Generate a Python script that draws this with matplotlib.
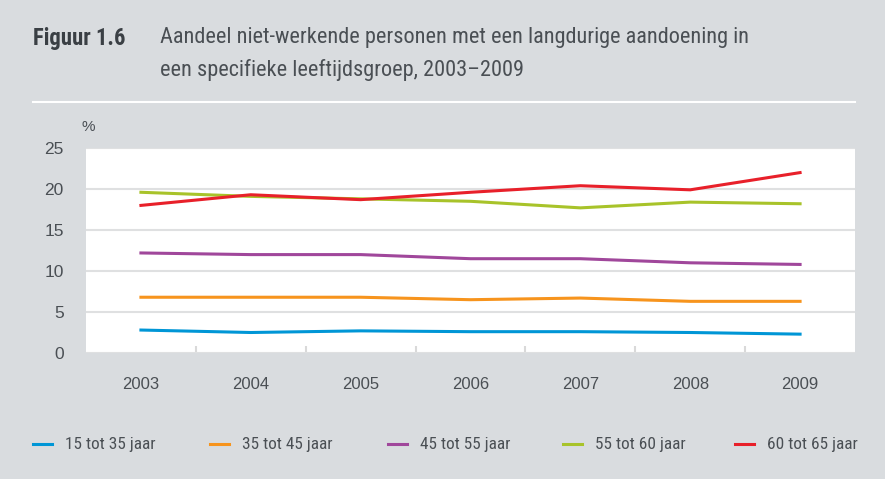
import matplotlib.pyplot as plt
from matplotlib import font_manager
from matplotlib.lines import Line2D

years = ["2003", "2004", "2005", "2006", "2007", "2008", "2009"]
labels = ["15 tot 35 jaar", "35 tot 45 jaar", "45 tot 55 jaar", "55 tot 60 jaar", "60 tot 65 jaar"]
age_15_35 = [2.8, 2.5, 2.7, 2.6, 2.6, 2.5, 2.3]
age_35_45 = [6.8, 6.8, 6.8, 6.5, 6.7, 6.3, 6.3]
age_45_55 = [12.2, 12.0, 12.0, 11.5, 11.5, 11.0, 10.8]
age_55_60 = [19.6, 19.1, 18.8, 18.5, 17.7, 18.4, 18.2]
age_60_65 = [18.0, 19.3, 18.7, 19.6, 20.4, 19.9, 22.0]
series = [age_15_35, age_35_45, age_45_55, age_55_60, age_60_65]
colors = ["#0096d6", "#f7941d", "#a0479b", "#a8c32a", "#e8202a"]
yticks = [0, 5, 10, 15, 20, 25]

bg = "#d9dcdf"
txt = "#4a4f54"


def pick_font(names):
    for n in names:
        try:
            font_manager.findfont(n, fallback_to_default=False)
            return n
        except Exception:
            pass
    return "DejaVu Sans"


narrow = pick_font(["Liberation Sans Narrow", "DejaVu Sans Condensed", "Roboto Condensed",
                    "Open Sans Condensed", "Roboto", "Liberation Sans"])
sans = pick_font(["Liberation Sans", "Arial"])

fig = plt.figure(figsize=(8.85, 4.79), dpi=100, facecolor=bg)
ax = fig.add_axes([86 / 885, 126 / 479, 769 / 885, 205 / 479])
ax.set_facecolor("white")

x = list(range(len(years)))
for vals, c, lab in zip(series, colors, labels):
    ax.plot(x, vals, color=c, lw=2.2, label=lab, zorder=3)

ax.set_xlim(-0.5, len(years) - 0.5)
ax.set_ylim(0, 25)
ax.set_yticks(yticks)
ax.set_yticklabels([str(t) for t in yticks], fontsize=12.5, color=txt, family=sans)
ax.set_xticks(x)
ax.set_xticklabels(years, fontsize=12, color=txt, family=sans)
ax.set_xticks([i + 0.5 for i in x[:-1]], minor=True)
ax.tick_params(axis="x", which="major", length=0, pad=17)
ax.tick_params(axis="x", which="minor", length=5, width=1.5, color="#d9d9d9", direction="in")
ax.tick_params(axis="y", length=0, pad=16)
ax.grid(axis="y", color="#dfe0e1", lw=1.5, zorder=0)
for s in ax.spines.values():
    s.set_visible(False)

renderer = fig.canvas.get_renderer()


def fit(t, width_px):
    # scale the font so the text spans the same width as in the reference
    w = t.get_window_extent(renderer).width
    t.set_fontsize(t.get_fontsize() * width_px / w)


H = 479
t0 = fig.text(33 / 885, 1 - 38 / H, "Figuur 1.6", fontsize=13, fontweight="bold", color="#3a3f44",
              family=narrow, va="center")
fit(t0, 92)
t1 = fig.text(160 / 885, 1 - 38 / H, "Aandeel niet-werkende personen met een langdurige aandoening in",
              fontsize=13, color=txt, family=narrow, va="center")
fit(t1, 586)
t2 = fig.text(160 / 885, 1 - 70 / H, "een specifieke leeftijdsgroep, 2003\u20132009",
              fontsize=t1.get_fontsize(), color=txt, family=narrow, va="center")
fig.add_artist(Line2D([33 / 885, 855 / 885], [1 - 102 / H, 1 - 102 / H], color="white", lw=1.5))
fig.text(81 / 885, 1 - 127 / H, "%", fontsize=11, color=txt, family=sans, va="center")

# legend drawn item by item at the reference positions
leg_x = [33, 210, 388, 563, 735]
size = None
for lx, c, lab in zip(leg_x, colors, labels):
    fig.add_artist(Line2D([lx / 885, (lx + 19) / 885], [1 - 444 / H, 1 - 444 / H], color=c, lw=2.2))
    t = fig.text((lx + 32) / 885, 1 - 444 / H, lab, fontsize=12, color=txt, family=narrow, va="center")
    if size is None:
        fit(t, 90)
        size = t.get_fontsize()
    else:
        t.set_fontsize(size)

fig.savefig("out.png", dpi=100, facecolor=bg)
